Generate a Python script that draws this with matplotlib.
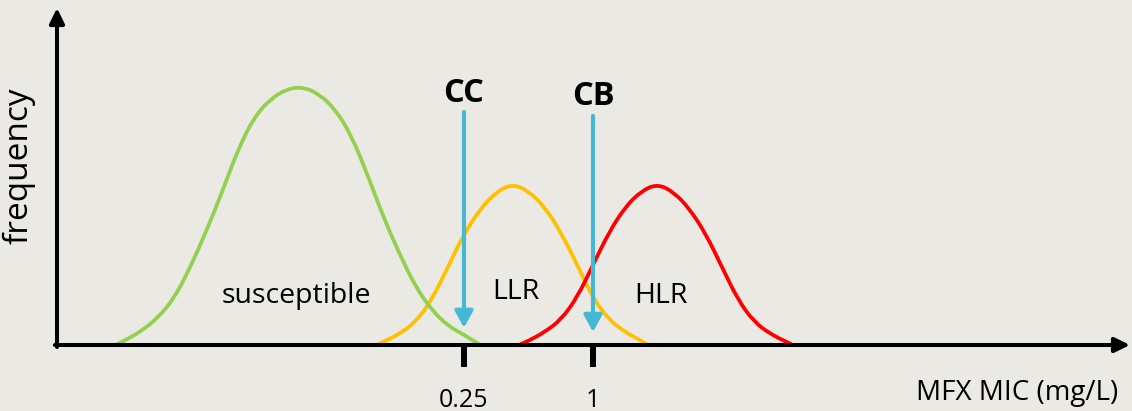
import numpy as np
import matplotlib
matplotlib.use("Agg")
import matplotlib.pyplot as plt
from matplotlib.path import Path
from matplotlib.patches import PathPatch

# ---------------- data (x in log2 MIC units, y = relative frequency) ----------------
tick_mic = [0.25, 1]
tick_labels = ["0.25", "1"]

breakpoint_names = ["CC", "CB"]
breakpoint_mic = [0.25, 1]

susceptible_x = [-7.4, -7.25, -7.0, -6.75, -6.5, -6.25, -6.0, -5.75, -5.5, -5.25, -5.0, -4.75,
                 -4.5, -4.25, -4.0, -3.75, -3.5, -3.25, -3.0, -2.75, -2.5, -2.25, -2.0, -1.75]
susceptible_y = [0, 1.9, 5.4, 10.5, 17.8, 29.8, 43.8, 59.3, 76.0, 88.4, 95.3, 99.2,
                 100, 97.3, 91.5, 81.4, 66.3, 49.6, 35.3, 22.5, 13.6, 7.4, 4.0, 0]

llr_x = [-3.35, -3.25, -3.0, -2.75, -2.5, -2.25, -2.0, -1.75, -1.5, -1.25, -1.0, -0.75,
         -0.5, -0.25, 0.0, 0.25, 0.5, 0.75, 0.85]
llr_y = [0, 1.2, 4.3, 8.9, 17.4, 30.2, 43.0, 52.7, 59.3, 62.4, 59.7, 53.5,
         43.8, 31.4, 18.2, 9.7, 5.0, 1.6, 0]

hlr_x = [-1.15, -1.0, -0.75, -0.5, -0.25, 0.0, 0.25, 0.5, 0.75, 1.0, 1.25, 1.5,
         1.75, 2.0, 2.25, 2.5, 2.75, 3.0, 3.1]
hlr_y = [0, 1.6, 5.0, 9.7, 18.2, 31.0, 43.8, 53.5, 59.7, 62.4, 59.3, 52.7,
         43.0, 30.2, 17.4, 8.9, 4.3, 1.2, 0]

region_names = ["susceptible", "LLR", "HLR"]

# ---------------- style ----------------
BG = "#EAE9E3"
GREEN = "#92D050"
ORANGE = "#FFC000"
RED = "#FF0000"
BLUE = "#45B8D5"
FONT = "Open Sans"
plt.rcParams["font.family"] = [FONT, "DejaVu Sans"]

fig = plt.figure(figsize=(11.32, 4.11), dpi=100, facecolor=BG)
ax = fig.add_axes([57 / 1132, 66 / 411, 1073 / 1132, 337 / 411])
ax.patch.set_visible(False)
for s in ax.spines.values():
    s.set_visible(False)
ax.set_xlim(-8.31, 8.326)
ax.set_ylim(0, 130.6)


def smooth_curve(xs, ys, color):
    pts = list(zip(xs, ys))
    verts = [pts[0], ((pts[0][0] + pts[1][0]) / 2, (pts[0][1] + pts[1][1]) / 2)]
    codes = [Path.MOVETO, Path.LINETO]
    for i in range(1, len(pts) - 1):
        nxt = ((pts[i][0] + pts[i + 1][0]) / 2, (pts[i][1] + pts[i + 1][1]) / 2)
        verts += [pts[i], nxt]
        codes += [Path.CURVE3, Path.CURVE3]
    verts.append(pts[-1])
    codes.append(Path.LINETO)
    patch = PathPatch(Path(verts, codes), facecolor="none", edgecolor=color,
                      lw=2.7, capstyle="butt", joinstyle="round", zorder=2)
    ax.add_patch(patch)


smooth_curve(llr_x, llr_y, ORANGE)
smooth_curve(susceptible_x, susceptible_y, GREEN)
smooth_curve(hlr_x, hlr_y, RED)

# axes with arrow heads
axis_arrow = dict(arrowstyle="-|>,head_length=0.45,head_width=0.22", lw=2.9,
                  color="black", mutation_scale=20, shrinkA=0, shrinkB=0)
ax.annotate("", xy=(1, 0), xytext=(-0.002, 0), xycoords="axes fraction",
            arrowprops=axis_arrow, annotation_clip=False, zorder=4)
ax.annotate("", xy=(0, 1), xytext=(0, -0.006), xycoords="axes fraction",
            arrowprops=axis_arrow, annotation_clip=False, zorder=4)

# ticks
ax.set_xticks(np.log2(tick_mic), tick_labels)
ax.set_yticks([])
ax.tick_params(axis="x", length=16, width=4.3, direction="out", pad=15,
               labelsize=18, color="black")
for lab in ax.get_xticklabels():
    lab.set_fontfamily(FONT)

# breakpoint arrows
arrow_tops = [90.3, 88.8]
arrow_tips = [6.6, 5.0]
label_y = [97.5, 96.3]
blue_arrow = dict(arrowstyle="-|>,head_length=0.5,head_width=0.27", lw=3,
                  color=BLUE, mutation_scale=20, shrinkA=0, shrinkB=0)
for name, mic, top, tip, ly in zip(breakpoint_names, breakpoint_mic, arrow_tops, arrow_tips, label_y):
    x = np.log2(mic)
    ax.annotate("", xy=(x, tip), xytext=(x, top), arrowprops=blue_arrow, zorder=5)
    ax.text(x, ly, name, ha="center", va="center", fontsize=23.5,
            fontweight="bold", color="black", family=FONT)

# region labels
region_pos = [(-4.6, 16.4), (-1.19, 17.7), (1.06, 16.3)]
for name, (x, y) in zip(region_names, region_pos):
    ax.text(x, y, name, ha="center", va="baseline", fontsize=20.5, color="black",
            family=FONT)

# axis labels
ax.set_ylabel("frequency", fontsize=24, family=FONT, color="black")
ax.yaxis.set_label_coords(-0.0205, 0.531)
ax.set_xlabel("MFX MIC (mg/L)", fontsize=20, family=FONT, color="black",
              ha="right", va="baseline")
ax.xaxis.set_label_coords(1061 / 1073, -0.163)

fig.savefig("out.png", dpi=100, facecolor=BG)
